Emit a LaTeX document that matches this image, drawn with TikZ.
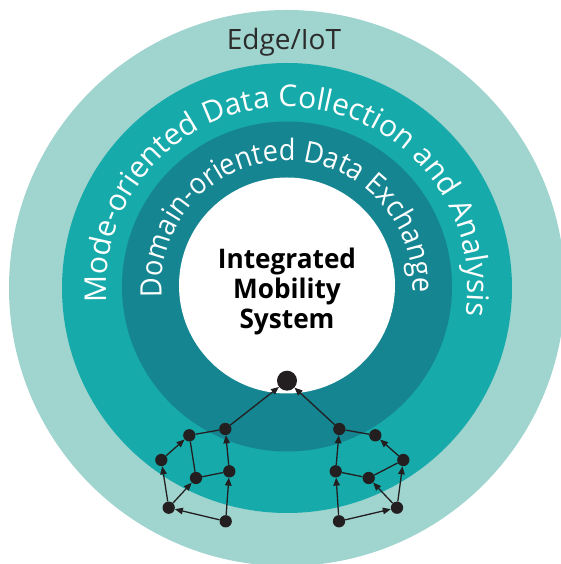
\documentclass[tikz,border=0pt]{standalone}
\usepackage{fontspec}
\setmainfont{Open Sans}
\newfontfamily\ringfont{Open Sans}
\newfontfamily\innerringfont{Open Sans}[FakeStretch=0.92]
\newfontfamily\centerfont{Open Sans}[FakeStretch=0.97]
\usetikzlibrary{decorations.text, arrows.meta}
\definecolor{ringA}{HTML}{9FD4CF}
\definecolor{ringB}{HTML}{17AAAA}
\definecolor{ringC}{HTML}{148591}
\definecolor{dotc}{HTML}{231F20}
\definecolor{edgetext}{HTML}{2B2B2B}
\begin{document}
\begin{tikzpicture}[x=1pt,y=1pt,
  dot/.style={circle, fill=dotc, inner sep=0pt, minimum size=12.3pt},
  bigdot/.style={circle, fill=dotc, inner sep=0pt, minimum size=20pt},
  link/.style={draw=dotc, line width=1.3pt},
  flow/.style={link, -{Triangle[length=8pt,width=6.5pt]}}]
\useasboundingbox (0,0) rectangle (561,564);
\clip (0,0) rectangle (561,564);
% rings
\fill[ringA] (287,276) circle[radius=278];
\fill[ringB] (287,276) circle[radius=225];
\fill[ringC] (287,277.5) circle[radius=165];
\fill[white] (287,278.5) circle[radius=108];
% ring texts
\path[decorate, decoration={text along path, text align=center,
  text={|\ringfont\fontsize{30}{36}\selectfont\color{white}|Mode-oriented Data Collection and Analysis}}]
  (287,276) ++(184:181) arc[start angle=184, end angle=-8, radius=181];
\path[decorate, decoration={text along path, text align=center,
  text={|\innerringfont\fontsize{29.5}{36}\selectfont\color{white}|Domain-oriented Data Exchange}}]
  (287,277.5) ++(186:125.5) arc[start angle=186, end angle=-3.7, radius=125.5];
\node[anchor=base, font=\fontsize{28}{30}\selectfont, text=edgetext, inner sep=0pt] (edge) at (284,514) {Edge/IoT};
\node[font=\centerfont\bfseries\fontsize{27}{30}\selectfont, align=center, text=black] (title) at (287,273) {Integrated\\Mobility\\System};
% graph nodes
\node[bigdot] (B) at (287,183.3) {};
\node[dot] (L1) at (225.3,135) {};
\node[dot] (L2) at (189.3,128.7) {};
\node[dot] (L3) at (161.3,104) {};
\node[dot] (L4) at (196,86) {};
\node[dot] (L5) at (229.3,92.7) {};
\node[dot] (L6) at (168.7,56.3) {};
\node[dot] (L7) at (225.7,42.7) {};
\node[dot] (R1) at (339.3,135) {};
\node[dot] (R2) at (375.3,128.7) {};
\node[dot] (R3) at (403.3,104) {};
\node[dot] (R4) at (368.7,86) {};
\node[dot] (R5) at (335.7,92.7) {};
\node[dot] (R6) at (397,56.3) {};
\node[dot] (R7) at (339,42.7) {};
% left connectors
\draw[flow] (L1) -- (B);
\draw[link] (L2) -- (L1);
\draw[flow] (L3) -- (L2);
\draw[link] (L2) -- (L4);
\draw[link] (L4) -- (L5);
\draw[flow] (L5) -- (L1);
\draw[flow] (L6) -- (L3);
\draw[flow] (L6) -- (L4);
\draw[flow] (L7) -- (L5);
\draw[flow] (L7) -- (L6);
% right connectors
\draw[flow] (R1) -- (B);
\draw[link] (R1) -- (R2);
\draw[flow] (R3) -- (R2);
\draw[flow] (R5) -- (R1);
\draw[link] (R5) -- (R4);
\draw[link] (R4) -- (R3);
\draw[flow] (R6) -- (R3);
\draw[flow] (R6) -- (R4);
\draw[flow] (R7) -- (R5);
\draw[flow] (R7) -- (R6);
\end{tikzpicture}
\end{document}
